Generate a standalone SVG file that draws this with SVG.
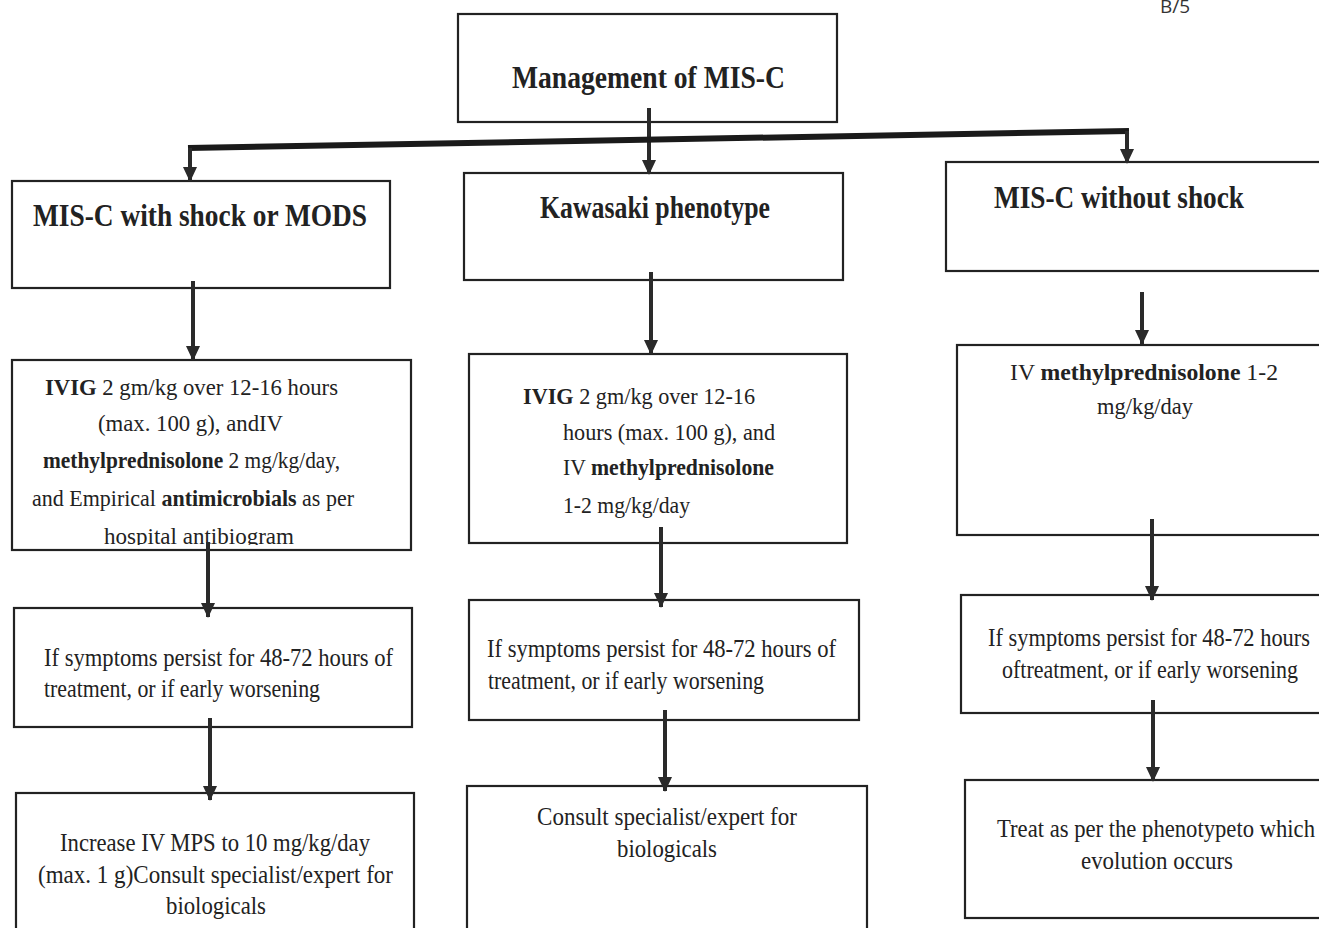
<svg xmlns="http://www.w3.org/2000/svg" width="1319" height="928" viewBox="0 0 1319 928">
<style>
.box{fill:#fff;stroke:#222;stroke-width:2.2}
.t{font-family:"Liberation Serif","Times New Roman",serif;fill:#222}
.h{font-weight:bold;font-size:31px}
.m{font-size:24px}
.s{font-size:25px}
.b{font-weight:bold}
.ln{stroke:#2a2a2a;stroke-width:4;fill:none}
</style>
<defs>
<marker id="ah" markerUnits="userSpaceOnUse" markerWidth="15" markerHeight="14" refX="14" refY="7" orient="auto" viewBox="0 0 15 14">
<path d="M0,0 L15,7 L0,14 Z" fill="#2a2a2a"/>
</marker>
</defs>
<rect width="1319" height="928" fill="#fff"/>
<text x="1160" y="13" font-family="'Open Sans','DejaVu Sans',sans-serif" font-size="19" fill="#333">B/5</text>

<g id="root">
<rect class="box" x="458" y="14" width="379" height="108"/>
<text class="t h" x="512" y="88" textLength="273" lengthAdjust="spacingAndGlyphs">Management of MIS-C</text>
</g>

<g id="shock">
<rect class="box" x="12" y="181" width="378" height="107"/>
<text class="t h" x="33" y="226" textLength="334" lengthAdjust="spacingAndGlyphs">MIS-C with shock or MODS</text>
</g>
<g id="kawasaki">
<rect class="box" x="464" y="173" width="379" height="107"/>
<text class="t h" x="540" y="218" textLength="230" lengthAdjust="spacingAndGlyphs">Kawasaki phenotype</text>
</g>
<g id="noshock">
<rect class="box" x="946" y="162" width="380" height="109"/>
<text class="t h" x="994" y="208" textLength="250" lengthAdjust="spacingAndGlyphs">MIS-C without shock</text>
</g>

<g id="shock-tx">
<rect class="box" x="12" y="360" width="399" height="190"/>
<text class="t m" x="45" y="395" textLength="293" lengthAdjust="spacingAndGlyphs"><tspan class="b">IVIG</tspan> 2 gm/kg over 12-16 hours</text>
<text class="t m" x="98" y="431" textLength="185" lengthAdjust="spacingAndGlyphs">(max. 100 g), andIV</text>
<text class="t m" x="43" y="468" textLength="297" lengthAdjust="spacingAndGlyphs"><tspan class="b">methylprednisolone</tspan> 2 mg/kg/day,</text>
<text class="t m" x="32" y="506" textLength="322" lengthAdjust="spacingAndGlyphs">and Empirical <tspan class="b">antimicrobials</tspan> as per</text>
<svg x="12" y="360" width="399" height="185" overflow="hidden"><text class="t m" x="92" y="184" textLength="190" lengthAdjust="spacingAndGlyphs">hospital antibiogram</text></svg>
</g>
<g id="kawasaki-tx">
<rect class="box" x="469" y="354" width="378" height="189"/>
<text class="t m" x="523" y="404" textLength="232" lengthAdjust="spacingAndGlyphs"><tspan class="b">IVIG</tspan> 2 gm/kg over 12-16</text>
<text class="t m" x="563" y="440" textLength="212" lengthAdjust="spacingAndGlyphs">hours (max. 100 g), and</text>
<text class="t m" x="563" y="475" textLength="211" lengthAdjust="spacingAndGlyphs">IV <tspan class="b">methylprednisolone</tspan></text>
<text class="t m" x="563" y="513" textLength="127" lengthAdjust="spacingAndGlyphs">1-2 mg/kg/day</text>
</g>
<g id="noshock-tx">
<rect class="box" x="957" y="345" width="369" height="190"/>
<text class="t m" x="1010" y="380" textLength="268" lengthAdjust="spacingAndGlyphs">IV <tspan class="b">methylprednisolone</tspan> 1-2</text>
<text class="t m" x="1097" y="414" textLength="96" lengthAdjust="spacingAndGlyphs">mg/kg/day</text>
</g>

<g id="shock-persist">
<rect class="box" x="14" y="608" width="398" height="119"/>
<text class="t s" x="44" y="666" textLength="349" lengthAdjust="spacingAndGlyphs">If symptoms persist for 48-72 hours of</text>
<text class="t s" x="44" y="697" textLength="276" lengthAdjust="spacingAndGlyphs">treatment, or if early worsening</text>
</g>
<g id="kawasaki-persist">
<rect class="box" x="469" y="600" width="390" height="120"/>
<text class="t s" x="487" y="657" textLength="349" lengthAdjust="spacingAndGlyphs">If symptoms persist for 48-72 hours of</text>
<text class="t s" x="488" y="689" textLength="276" lengthAdjust="spacingAndGlyphs">treatment, or if early worsening</text>
</g>
<g id="noshock-persist">
<rect class="box" x="961" y="595" width="365" height="118"/>
<text class="t s" x="988" y="646" textLength="322" lengthAdjust="spacingAndGlyphs">If symptoms persist for 48-72 hours</text>
<text class="t s" x="1002" y="678" textLength="296" lengthAdjust="spacingAndGlyphs">oftreatment, or if early worsening</text>
</g>

<g id="shock-next">
<rect class="box" x="16" y="793" width="398" height="140"/>
<text class="t s" x="60" y="851" textLength="310" lengthAdjust="spacingAndGlyphs">Increase IV MPS to 10 mg/kg/day</text>
<text class="t s" x="38" y="883" textLength="355" lengthAdjust="spacingAndGlyphs">(max. 1 g)Consult specialist/expert for</text>
<text class="t s" x="166" y="914" textLength="100" lengthAdjust="spacingAndGlyphs">biologicals</text>
</g>
<g id="kawasaki-next">
<rect class="box" x="467" y="786" width="400" height="147"/>
<text class="t s" x="537" y="825" textLength="260" lengthAdjust="spacingAndGlyphs">Consult specialist/expert for</text>
<text class="t s" x="617" y="857" textLength="100" lengthAdjust="spacingAndGlyphs">biologicals</text>
</g>
<g id="noshock-next">
<rect class="box" x="965" y="780" width="361" height="138"/>
<text class="t s" x="997" y="837" textLength="318" lengthAdjust="spacingAndGlyphs">Treat as per the phenotypeto which</text>
<text class="t s" x="1081" y="869" textLength="152" lengthAdjust="spacingAndGlyphs">evolution occurs</text>
</g>

<g id="connectors">
<path class="ln" d="M649,108 L649,174" marker-end="url(#ah)"/>
<path d="M188,148 L1129,131" stroke="#1a1a1a" stroke-width="6" fill="none"/>
<path class="ln" d="M190,148 L190,181" marker-end="url(#ah)"/>
<path class="ln" d="M1127,131 L1127,163" marker-end="url(#ah)"/>
<path class="ln" d="M193,281 L193,360" marker-end="url(#ah)"/>
<path class="ln" d="M651,272 L651,354" marker-end="url(#ah)"/>
<path class="ln" d="M1142,292 L1142,344" marker-end="url(#ah)"/>
<path class="ln" d="M208,542 L208,617" marker-end="url(#ah)"/>
<path class="ln" d="M661,527 L661,607" marker-end="url(#ah)"/>
<path class="ln" d="M1152,519 L1152,600" marker-end="url(#ah)"/>
<path class="ln" d="M210,718 L210,800" marker-end="url(#ah)"/>
<path class="ln" d="M665,710 L665,791" marker-end="url(#ah)"/>
<path class="ln" d="M1153,700 L1153,781" marker-end="url(#ah)"/>
</g>
</svg>
